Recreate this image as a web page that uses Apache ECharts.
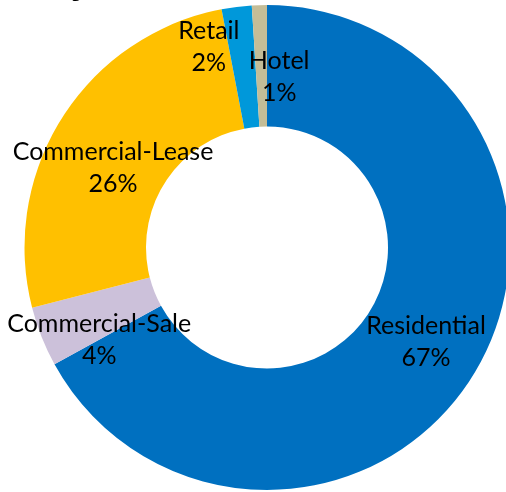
<!DOCTYPE html>
<html>
<head>
<meta charset="utf-8">
<script src="https://cdn.jsdelivr.net/npm/echarts@6/dist/echarts.min.js"></script>
<style>
  html, body { margin: 0; padding: 0; background: #fff; }
  #chart { width: 506px; height: 492px; }
</style>
</head>
<body>
<div id="chart"></div>
<script>
// Portfolio mix by property type (percent of total)
const categories = ['Residential', 'Commercial-Sale', 'Commercial-Lease', 'Retail', 'Hotel'];
const shares = [67, 4, 26, 2, 1];
const colors = ['#0070C0', '#CCC1DA', '#FFC000', '#0098DA', '#C4BD97'];
// per-slice nudges so the labels sit clear of neighbouring slices
const labelOffsets = [[0, 0], [4, 24], [2, 19], [-35, -17], [18, 14]];

const chart = echarts.init(document.getElementById('chart'), null, { renderer: 'canvas' });

const data = categories.map((name, i) => ({
  name,
  value: shares[i],
  itemStyle: { color: colors[i] },
  label: { offset: labelOffsets[i] }
}));

chart.setOption({
  animation: false,
  backgroundColor: '#fff',
  graphic: [{
    type: 'text',
    left: 71,
    top: -32,
    style: { text: 'y', font: 'bold 34px "Liberation Sans", sans-serif', fill: '#000' }
  }],
  series: [{
    type: 'pie',
    center: [267, 247.5],
    radius: [121, 242.5],
    startAngle: 90,
    clockwise: true,
    avoidLabelOverlap: false,
    silent: true,
    data,
    label: {
      show: true,
      position: 'inside',
      formatter: p => p.name + '\n' + p.value + '%',
      fontFamily: 'Lato, sans-serif',
      fontSize: 25,
      lineHeight: 32,
      color: '#000',
      align: 'center'
    },
    labelLine: { show: false },
    emphasis: { disabled: true }
  }]
});
</script>
</body>
</html>
